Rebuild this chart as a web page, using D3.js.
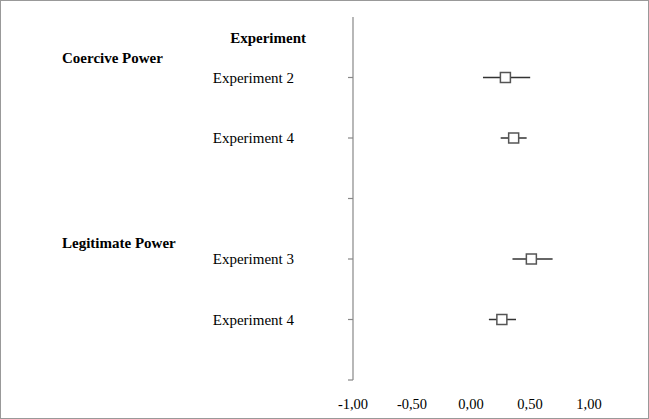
<!DOCTYPE html>
<html><head><meta charset="utf-8">
<script src="https://cdn.jsdelivr.net/npm/d3@7"></script>
<style>body{margin:0;background:#fff}text{font-family:"Liberation Serif",serif;fill:#000}</style>
</head><body><svg id="c" width="649" height="419"></svg>
<script>
const rows = ["top", "c2", "c4", "gap", "l3", "l4", "bottom"];
const studies = ["c2", "c4", "l3", "l4"];
const studyLabels = ["Experiment 2", "Experiment 4", "Experiment 3", "Experiment 4"];
const estimates = [0.30, 0.37, 0.52, 0.27];
const lower = [0.11, 0.26, 0.36, 0.16];
const upper = [0.51, 0.48, 0.70, 0.39];
const xTicks = [-1, -0.5, 0, 0.5, 1];

const svg = d3.select("#c");
svg.append("rect").attr("x", 0.5).attr("y", 0.5).attr("width", 648).attr("height", 418)
  .attr("fill", "#fff").attr("stroke", "#999");

const x = d3.scaleLinear().domain([-1, 1]).range([352, 588]);
const y = d3.scalePoint().domain(rows).range([17, 380]);
const axX = 353;

svg.append("line").attr("x1", axX).attr("x2", axX).attr("y1", 17).attr("y2", 380)
  .attr("stroke", "#888").attr("stroke-width", 1.2);
svg.selectAll(".tk").data(["c2", "c4", "gap", "l3", "l4", "bottom"]).join("line")
  .attr("x1", axX - 5).attr("x2", axX).attr("y1", d => y(d)).attr("y2", d => y(d))
  .attr("stroke", "#888").attr("stroke-width", 1.2);

svg.selectAll(".xl").data(xTicks).join("text")
  .attr("x", d => x(d) + 1).attr("y", 409).attr("text-anchor", "middle").attr("font-size", 14.5)
  .text(d => d3.format(".2f")(d).replace(".", ",").replace("−", "-"));

svg.selectAll(".ci").data(studies).join("line")
  .attr("x1", (d, i) => x(lower[i])).attr("x2", (d, i) => x(upper[i]))
  .attr("y1", d => y(d)).attr("y2", d => y(d)).attr("stroke", "#333").attr("stroke-width", 1.5);
svg.selectAll(".pt").data(studies).join("rect")
  .attr("x", (d, i) => x(estimates[i]) - 5).attr("y", d => y(d) - 5)
  .attr("width", 10).attr("height", 10).attr("fill", "#fff").attr("stroke", "#555").attr("stroke-width", 1.5);

svg.selectAll(".sl").data(studies).join("text")
  .attr("x", 294).attr("y", d => y(d) + 5).attr("text-anchor", "end").attr("font-size", 15)
  .text((d, i) => studyLabels[i]);

svg.append("text").attr("x", 306).attr("y", 43).attr("text-anchor", "end")
  .attr("font-size", 15).attr("font-weight", "bold").text("Experiment");
svg.append("text").attr("x", 62).attr("y", 63)
  .attr("font-size", 15).attr("font-weight", "bold").text("Coercive Power");
svg.append("text").attr("x", 62).attr("y", 248)
  .attr("font-size", 15).attr("font-weight", "bold").text("Legitimate Power");
</script></body></html>
